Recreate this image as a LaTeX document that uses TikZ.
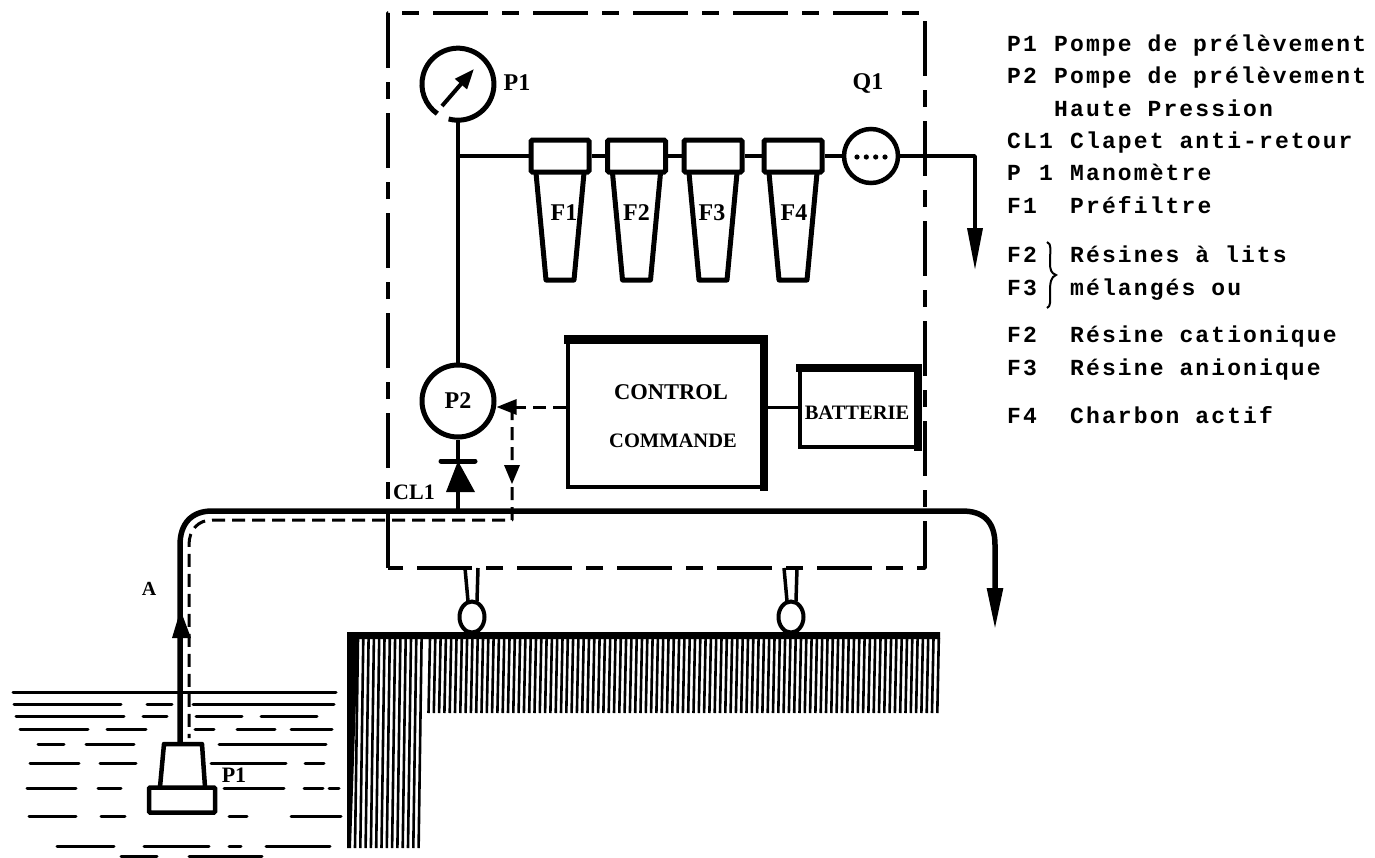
\documentclass[tikz,border=0pt]{standalone}
\usepackage{fontspec}
\setmainfont{Liberation Serif}
\newfontfamily\lgdfont[LetterSpace=9.2]{Liberation Mono}
\usetikzlibrary{arrows.meta,calc,shapes.geometric}
\tikzset{
  pipe/.style={line width=4pt,line join=round},
  thinpipe/.style={line width=3.5pt,line join=round},
  signal/.style={line width=3pt,dash pattern=on 13pt off 7pt,line join=round},
  frame/.style={line width=3.5pt,dash pattern=on 55pt off 14pt on 17pt off 14pt,line join=round},
  fhead/.style={draw,line width=5pt,rectangle,rounded corners=1.5pt,minimum width=58pt,minimum height=32pt,inner sep=0pt},
  fbody/.style={line width=5pt,line join=round},
  disc/.style={draw,line width=5pt,circle,inner sep=0pt},
  ctl/.style={draw,line width=4pt,rectangle,inner sep=0pt},
  lab/.style={font=\fontsize{24}{24}\selectfont\bfseries,inner sep=0pt},
  sml/.style={font=\fontsize{22}{22}\selectfont\bfseries,inner sep=0pt},
  lgd/.style={font=\lgdfont\fontsize{23}{23}\selectfont\bfseries,inner sep=0pt,anchor=base west},
  water/.style={line width=3pt,line cap=round},
  hatch/.style={line width=2.6pt},
  bigarrow/.style={-{Triangle[length=42pt,width=15pt]}},
}
\newcommand{\lgdrow}[4]{\node[lgd] at (1007,#1) {#2}; \node[lgd] at (#3,#1) {#4};}
\newcommand{\waterrow}[2]{\foreach \a/\b in {#2} {\draw[water] (\a,#1) -- (\b,#1);}}
\begin{document}
\begin{tikzpicture}[x=1pt,y=-1pt]
\useasboundingbox (0,0) rectangle (1375,857);
\fill[white] (0,0) rectangle (1375,857);

% frame
\draw[frame] (388,568) -- (388,13) -- (925,13) -- (925,568) -- cycle;

% ground
\foreach \x in {430,435.3,...,940} {\draw[hatch] (\x,638) -- (\x-1.5,713);}
\foreach \x in {358,363.3,...,424} {\draw[hatch] (\x,638) -- (\x-3,848);}
\fill (347,632) -- (940,632) -- (940,639) -- (358,639) -- (351,848) -- (347,848) -- cycle;

% water
\waterrow{692}{13/336}
\waterrow{704}{14/121,147/172,193/334}
\waterrow{716}{16/124,143/167,196/242,261/317}
\waterrow{729}{20/88,107/146,195/214,237/275,291/332}
\waterrow{744}{38/64,86/134,219/326}
\waterrow{763}{30/79,100/136,211/286,305/324}
\waterrow{788}{27/76,98/121,224/284,304/323,329/339}
\waterrow{816}{29/76,101/125,229/247,291/341}
\waterrow{846}{57/114,144/209,229/241,266/330}
\waterrow{856}{121/157,189/262}

% instruments
\node[circle,minimum size=72pt,inner sep=0pt] (gauge) at (458,84) {};
\draw[line width=5pt] (gauge.255) arc[start angle=255,end angle=595,radius=36pt];
\coordinate (needleA) at (442,106);
\coordinate (needleB) at (474,69);
\draw[line width=4pt,-{Triangle[length=20pt,width=15pt]}] (needleA) -- (needleB);

\node[disc,minimum size=72pt,lab] (p2) at (458,401) {P2};
\node[disc,line width=4.5pt,minimum size=54pt] (q1) at (871,156) {};
\foreach \x in {-14,-4.7,4.7,14} {\fill ($(q1.center)+(\x,1)$) circle (2.6pt);}

% filters
\foreach \n/\x/\t/\d in {1/560/F1/4,2/636.5/F2/0,3/713/F3/-1,4/793/F4/1} {
  \node[fhead] (f\n) at (\x,156) {};
  \draw[fbody] (\x-24,173) -- (\x-14,280) -- (\x+14,280) -- (\x+24,173);
  \node[lab] (ft\n) at (\x+\d,213) {\t};
}

% control
\node[ctl,minimum width=196pt,minimum height=147pt] (control) at (666,413) {};
\fill ($(control.north west)+(-2,-3)$) rectangle ($(control.north east)+(2,6)$);
\fill ($(control.north east)+(-6,0)$) rectangle ($(control.south east)+(2,2)$);
\node[ctl,minimum width=118pt,minimum height=80pt] (batt) at (859,407) {};
\fill ($(batt.north west)+(-2,-1)$) rectangle ($(batt.north east)+(2,7)$);
\fill ($(batt.north east)+(-6,0)$) rectangle ($(batt.south east)+(2,2)$);
\node[lab,font=\fontsize{22.5}{23}\selectfont\bfseries] (t1) at (671,392) {CONTROL};
\node[lab,font=\fontsize{20.5}{21}\selectfont\bfseries] (t2) at (673,441) {COMMANDE};
\node[lab,font=\fontsize{20.5}{21}\selectfont\bfseries] (t3) at (857,413) {BATTERIE};

% pipes
\coordinate (tee) at (458,156);
\coordinate (bendR) at (975,156);
\coordinate (outR) at (975,270);
\draw[thinpipe] (gauge.south) -- (p2.north);
\draw[thinpipe] (tee) -- (f1.west);
\draw[pipe] (f1) -- (f2) (f2) -- (f3) (f3) -- (f4) (f4) -- (q1);
\draw[thinpipe,bigarrow] (q1.east) -- (bendR) -- (outR);
\draw[line width=3pt] (control.east |- batt.west) -- (batt.west);

% check valve
\coordinate (vtop) at (458,461);
\coordinate (vbot) at (458,492);
\coordinate (main) at (458,511);
\draw[thinpipe] (p2.south) -- (vtop);
\draw[line width=5pt,line cap=round] (441,461) -- (475,461);
\fill (vtop) -- (475,492) -- (446,492) -- cycle;
\draw[thinpipe] (vbot) -- (main);

% main pipe
\coordinate (pumpTop) at (180,744);
\coordinate (outM) at (995,630);
\draw[line width=5.5pt,bigarrow] (pumpTop) -- (180,545) .. controls (180,523) and (192,511) .. (212,511) -- (962,511) .. controls (984,511) and (995,522) .. (995,545) -- (outM);
\fill (180.5,610) -- (191,638) -- (172,638) -- cycle;

% signal
\coordinate (sj) at (512,407);
\coordinate (sb) at (512,520);
\coordinate (pumpSig) at (189,738);
\draw[signal] (control.west |- sj) -- (sj);
\draw[line width=3pt,-{Triangle[length=20pt,width=15pt]}] (sj) -- (p2.east |- sj);
\draw[signal] (sj) -- (sb) -- (212,520) .. controls (198,520) and (189,530) .. (189,545) -- (pumpSig);
\fill (504,465) -- (520,465) -- (512,484) -- cycle;

% pump
\draw[line width=4.5pt,line join=round] (160,787) -- (164,744) -- (202,744) -- (205,787);
\node[draw,line width=4.5pt,rectangle,rounded corners=1pt,minimum width=66pt,minimum height=25pt,inner sep=0pt,fill=white] (pump) at (182,800) {};

% supports
\foreach \n/\x in {a/472,b/791} {
  \node[draw,line width=4pt,ellipse,minimum width=25pt,minimum height=31pt,inner sep=0pt] (ring\n) at (\x,617) {};
  \draw[line width=3.5pt] (\x-7,568) -- (\x-4,601) (\x+6,568) -- (\x+5,601);
}

% labels
\node[lab] (lp1) at (517,83) {P1};
\node[lab] (lq1) at (868,83) {Q1};
\node[sml] (lcl) at (414,492) {CL1};
\node[sml,font=\fontsize{20}{20}\selectfont\bfseries] (la) at (149,589) {A};
\node[sml] (lpp) at (234,775) {P1};

% legend
\lgdrow{51}{P1}{1054}{Pompe de prélèvement}
\lgdrow{83}{P2}{1054}{Pompe de prélèvement}
\node[lgd] at (1054,116) {Haute Pression};
\lgdrow{148}{CL1}{1070}{Clapet anti-retour}
\lgdrow{180}{P}{1070}{Manomètre}
\node[lgd] at (1039,180) {1};
\lgdrow{213}{F1}{1070}{Préfiltre}
\lgdrow{262}{F2}{1070}{Résines à lits}
\lgdrow{295}{F3}{1070}{mélangés ou}
\lgdrow{342}{F2}{1070}{Résine cationique}
\lgdrow{375}{F3}{1070}{Résine anionique}
\lgdrow{423}{F4}{1070}{Charbon actif}
\draw[line width=2pt] (1047,242) .. controls (1052,244) and (1050,250) .. (1050,262) .. controls (1050,270) and (1051,273) .. (1056,275) .. controls (1051,277) and (1050,282) .. (1050,292) .. controls (1050,302) and (1051,306) .. (1047,308);
\end{tikzpicture}
\end{document}
